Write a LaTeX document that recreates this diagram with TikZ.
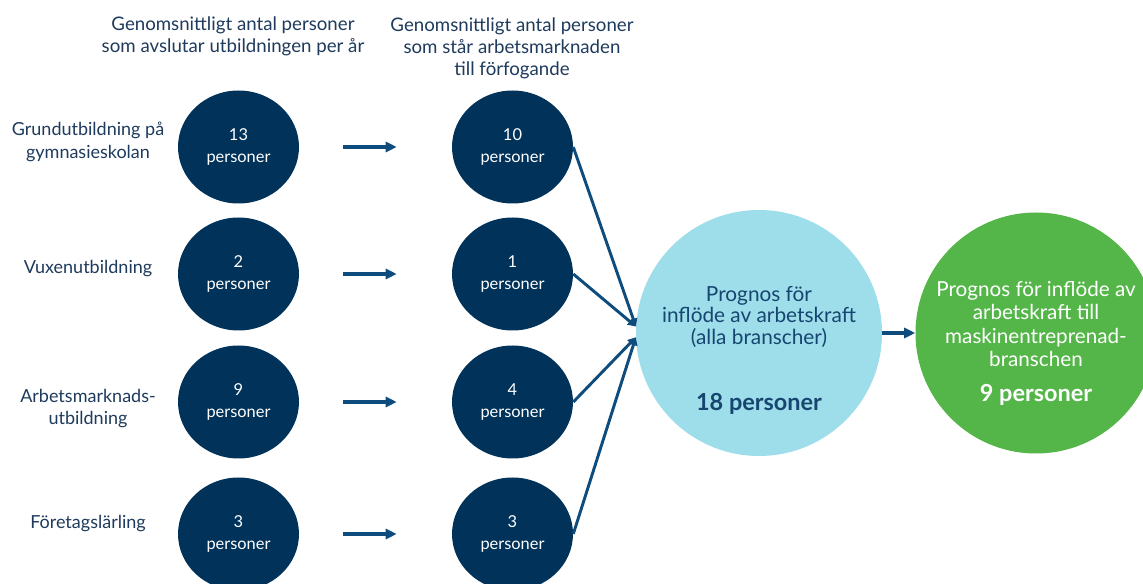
\documentclass[tikz,border=0pt]{standalone}
\usepackage{fontspec}
\setmainfont{Lato}
\usetikzlibrary{arrows.meta, shapes.geometric}
\definecolor{navy}{RGB}{0,50,90}
\definecolor{labelblue}{RGB}{30,58,92}
\definecolor{arrowblue}{RGB}{14,76,125}
\definecolor{progtextblue}{RGB}{22,70,112}
\definecolor{skyblue}{RGB}{158,221,234}
\definecolor{grassgreen}{RGB}{84,182,72}
\tikzset{heading/.style={align=center, text=labelblue, font=\fontsize{14}{16.5}\selectfont}}
\tikzset{edulabel/.style={align=center, text=labelblue, font=\fontsize{13.5}{17}\selectfont}}
\tikzset{edunode/.style={ellipse, fill=navy, text=white, inner sep=0pt, minimum width=90.75pt, minimum height=84.75pt, align=center, font=\fontsize{12.3}{16.5}\selectfont}}
\tikzset{flowarrow/.style={arrowblue, line width=3pt, -{Triangle[length=8.25pt, width=7.5pt]}}}
\tikzset{feedarrow/.style={arrowblue, line width=2.2pt, -{Triangle[length=6pt, width=6pt]}}}
\tikzset{bignum/.style={font=\bfseries\fontsize{17.6}{20}\selectfont}}
\begin{document}
\begin{tikzpicture}[x=0.75pt, y=-0.75pt]
\clip (0,0) rectangle (1143,584);
% column headings
\node[heading] (headgrad) at (233,36.5) {Genomsnittligt antal personer\\som avslutar utbildningen per år};
\node[heading] (headavail) at (512,48.5) {Genomsnittligt antal personer\\som står arbetsmarknaden\\till förfogande};
% kinds of education
\node[edulabel] (labgym) at (88,142) {Grundutbildning på\\gymnasieskolan};
\node[edulabel] (labvux) at (88,269) {Vuxenutbildning};
\node[edulabel] (labamu) at (88,408.5) {Arbetsmarknads-\\utbildning};
\node[edulabel] (labappr) at (88,524) {Företagslärling};
% graduates per year
\node[edunode] (gradgym) at (238.5,147) {13\\personer};
\node[edunode] (gradvux) at (238.5,274) {2\\personer};
\node[edunode] (gradamu) at (238.5,402) {9\\personer};
\node[edunode] (gradappr) at (238.5,534) {3\\personer};
% available on the labour market
\node[edunode] (availgym) at (512.5,147) {10\\personer};
\node[edunode] (availvux) at (512.5,274) {1\\personer};
\node[edunode] (availamu) at (512.5,402) {4\\personer};
\node[edunode] (availappr) at (512.5,534) {3\\personer};
\draw[flowarrow, shorten <=33pt, shorten >=41.25pt] (gradgym) -- (availgym);
\draw[flowarrow, shorten <=33pt, shorten >=41.25pt] (gradvux) -- (availvux);
\draw[flowarrow, shorten <=33pt, shorten >=41.25pt] (gradamu) -- (availamu);
\draw[flowarrow, shorten <=33pt, shorten >=41.25pt] (gradappr) -- (availappr);
% forecasts
\node[circle, fill=skyblue, inner sep=0pt, minimum size=184.5pt] (progall) at (759,333) {};
\node[align=center, text=progtextblue, font=\fontsize{15.6}{16.1}\selectfont] (progalltext) at (759,316.5) {Prognos för\\inflöde av arbetskraft\\(alla branscher)};
\node[bignum, text=progtextblue] (progallnum) at (759,404) {18 personer};
\node[circle, fill=grassgreen, inner sep=0pt, minimum size=180.75pt] (progmask) at (1036,333) {};
\node[align=center, text=white, font=\fontsize{15.5}{17.5}\selectfont] (progmasktext) at (1036,324) {Prognos för inflöde av\\arbetskraft till\\maskinentreprenad-\\branschen};
\node[bignum, text=white] (progmasknum) at (1036,395) {9 personer};
\draw[feedarrow] (availgym.east) -- (progall.177);
\draw[feedarrow] (availvux.east) -- (progall.177);
\draw[feedarrow] (availamu.east) -- (progall.182);
\draw[feedarrow] (availappr.east) -- (progall.182);
\draw[flowarrow] (progall) -- (progmask);
\end{tikzpicture}
\end{document}
